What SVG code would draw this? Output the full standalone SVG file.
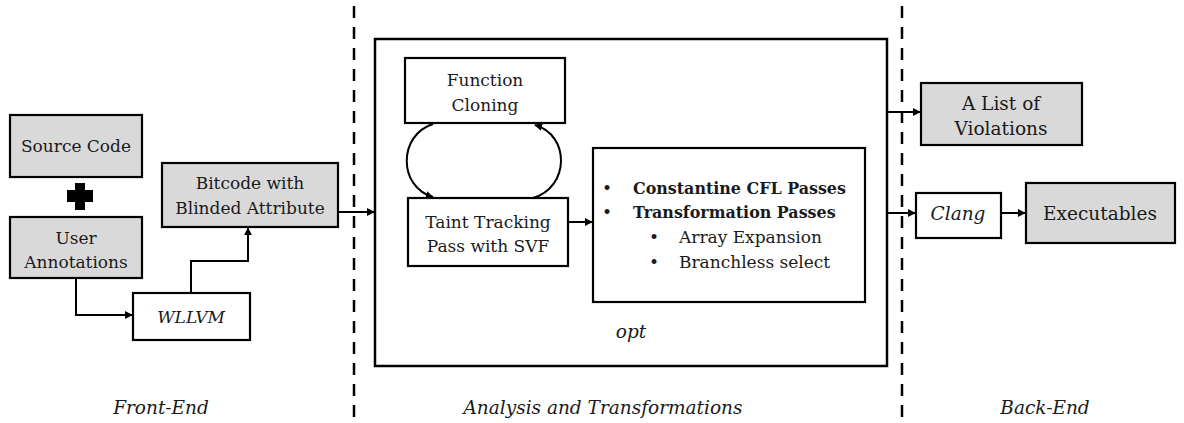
<svg xmlns="http://www.w3.org/2000/svg" width="1184" height="423" viewBox="0 0 1184 423">
<defs>
<marker id="arr" viewBox="0 0 10 10" refX="9" refY="5" markerWidth="8" markerHeight="8" markerUnits="userSpaceOnUse" orient="auto">
<path d="M0,0 L10,5 L0,10 z" fill="#000"/>
</marker>
<style>
text{font-family:'DejaVu Serif','Noto Serif',serif;}
.box{stroke:#000;stroke-width:2.2;}
.g{fill:#d9d9d9;}
.w{fill:#fff;}
.t{font-size:17px;fill:#1a1a1a;text-anchor:middle;}
.tl{font-size:18.5px;}
.i{font-style:italic;}
.b{font-weight:bold;text-anchor:start;font-size:15.9px;}
.s{text-anchor:start;}
.c{fill:none;stroke:#000;stroke-width:2;}
.dash{stroke:#000;stroke-width:2.5;stroke-dasharray:12 9;fill:none;}
</style>
</defs>
<rect width="1184" height="423" fill="#fff"/>

<g id="dividers">
<line class="dash" x1="354" y1="6" x2="354" y2="423"/>
<line class="dash" x1="902" y1="6" x2="902" y2="423"/>
</g>

<g id="opt">
<rect x="375" y="39" width="512" height="327" fill="none" stroke="#000" stroke-width="2.5"/>
<text class="t i tl" x="631" y="338">opt</text>
</g>

<g id="source-code">
<rect class="box g" x="10" y="115" width="132" height="62"/>
<text class="t" x="76" y="152">Source Code</text>
</g>

<g id="plus">
<path d="M75,183 H85 V190 H93 V202 H85 V210 H75 V202 H67 V190 H75 Z" fill="#000"/>
</g>

<g id="user-annotations">
<rect class="box g" x="10" y="217" width="132" height="61"/>
<text class="t" x="76" y="244">User</text>
<text class="t" x="76" y="268">Annotations</text>
</g>

<g id="bitcode">
<rect class="box g" x="162" y="163" width="176" height="64"/>
<text class="t" x="250" y="189">Bitcode with</text>
<text class="t" x="250" y="214">Blinded Attribute</text>
</g>

<g id="wllvm">
<rect class="box w" x="133" y="293" width="117" height="47"/>
<text class="t i" x="191" y="323">WLLVM</text>
</g>

<g id="function-cloning">
<rect class="box w" x="405" y="58" width="160" height="65"/>
<text class="t" x="485" y="86">Function</text>
<text class="t" x="485" y="111">Cloning</text>
</g>

<g id="taint-tracking">
<rect class="box w" x="408" y="198" width="160" height="68"/>
<text class="t" x="488" y="228">Taint Tracking</text>
<text class="t" x="488" y="252">Pass with SVF</text>
</g>

<g id="passes">
<rect class="box w" x="593" y="148" width="272" height="154"/>
<text class="t s" x="602" y="194">•</text>
<text class="t b" x="633" y="194">Constantine CFL Passes</text>
<text class="t s" x="602" y="218">•</text>
<text class="t b" x="633" y="218">Transformation Passes</text>
<text class="t s" x="649" y="243">•</text>
<text class="t s" x="679" y="243">Array Expansion</text>
<text class="t s" x="649" y="268">•</text>
<text class="t s" x="679" y="268">Branchless select</text>
</g>

<g id="violations">
<rect class="box g" x="921" y="83" width="161" height="62"/>
<text class="t tl" x="1001" y="110">A List of</text>
<text class="t tl" x="1001" y="135">Violations</text>
</g>

<g id="clang">
<rect class="box w" x="916" y="193" width="85" height="45"/>
<text class="t i tl" x="958" y="220">Clang</text>
</g>

<g id="executables">
<rect class="box g" x="1026" y="183" width="149" height="60"/>
<text class="t tl" x="1100" y="220">Executables</text>
</g>

<g id="connectors">
<polyline class="c" points="76,278 76,315 132,315" marker-end="url(#arr)"/>
<polyline class="c" points="191,293 191,261 248,261 248,228" marker-end="url(#arr)"/>
<line class="c" x1="338" y1="212" x2="374" y2="212" marker-end="url(#arr)"/>
<line class="c" x1="568" y1="222" x2="592" y2="222" marker-end="url(#arr)"/>
<path class="c" d="M433,124 C398,135 398,187 433,197" marker-end="url(#arr)"/>
<path class="c" d="M533,198 C570,187 570,135 535,125" marker-end="url(#arr)"/>
<line class="c" x1="888" y1="112" x2="920" y2="112" marker-end="url(#arr)"/>
<line class="c" x1="888" y1="213" x2="915" y2="213" marker-end="url(#arr)"/>
<line class="c" x1="1001" y1="213" x2="1025" y2="213" marker-end="url(#arr)"/>
</g>

<g id="labels">
<text class="t i tl" x="161" y="414">Front-End</text>
<text class="t i tl" x="603" y="414">Analysis and Transformations</text>
<text class="t i tl" x="1045" y="414">Back-End</text>
</g>
</svg>
